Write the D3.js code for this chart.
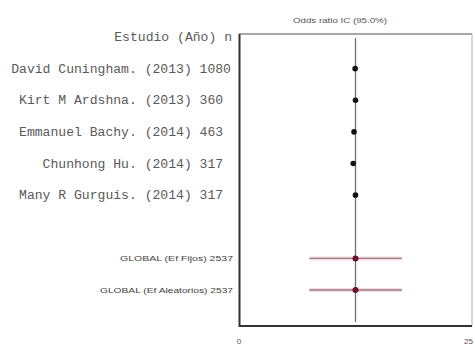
<!DOCTYPE html>
<html>
<head>
<meta charset="utf-8">
<script src="https://cdn.jsdelivr.net/npm/d3@7"></script>
<style>
  html, body { margin: 0; padding: 0; background: #fff; }
  svg { display: block; }
</style>
</head>
<body>
<svg id="chart" width="475" height="345"></svg>
<script>
// Studies in the meta-analysis (author, year, n) and their odds ratios
const studies = ["David Cuningham.", "Kirt M Ardshna.", "Emmanuel Bachy.", "Chunhong Hu.", "Many R Gurguis."];
const years = [2013, 2013, 2014, 2014, 2014];
const sizes = [1080, 360, 463, 317, 317];
const oddsRatios = [0.99, 1.0, 0.96, 0.94, 1.0];

// Pooled estimates
const globalLabels = ["GLOBAL (Ef Fijos) 2537", "GLOBAL (Ef Aleatorios) 2537"];
const globalOR = [1.0, 1.0];
const globalLow = [0.28, 0.28];
const globalHigh = [3.6, 3.6];

// Axis
const axisDomain = [0.04, 25];
const tickValues = [0.04, 25];
const tickLabels = ["0", "25"];
const refValue = 1;

const svg = d3.select("#chart");

const x = d3.scaleLog().domain(axisDomain).range([239, 472]);
// header row, five studies, a blank gap row, two pooled rows
const rowKeys = ["header", "s0", "s1", "s2", "s3", "s4", "gap", "g0", "g1"];
const y = d3.scalePoint().domain(rowKeys).range([37, 290]);

const plotTop = 34, plotBottom = 326;

// Reference line at OR = 1
svg.append("line")
  .attr("x1", x(refValue)).attr("x2", x(refValue))
  .attr("y1", 38).attr("y2", 322)
  .attr("stroke", "#707070").attr("stroke-width", 1.3);

// Frame
svg.append("line").attr("x1", 239).attr("x2", 472).attr("y1", plotTop).attr("y2", plotTop)
  .attr("stroke", "#8a8a8a").attr("stroke-width", 1.3);
svg.append("line").attr("x1", 472).attr("x2", 472).attr("y1", plotTop).attr("y2", plotBottom)
  .attr("stroke", "#b0b0b0").attr("stroke-width", 1);
svg.append("line").attr("x1", 239.5).attr("x2", 239.5).attr("y1", plotTop).attr("y2", plotBottom + 1)
  .attr("stroke", "#333").attr("stroke-width", 2);
svg.append("line").attr("x1", 239).attr("x2", 472).attr("y1", plotBottom).attr("y2", plotBottom)
  .attr("stroke", "#333").attr("stroke-width", 2);

// Title
svg.append("text")
  .attr("x", 340).attr("y", 23)
  .attr("text-anchor", "middle")
  .attr("font-family", "Liberation Sans, Arial, sans-serif")
  .attr("font-size", 8)
  .attr("textLength", 94)
  .attr("lengthAdjust", "spacingAndGlyphs")
  .attr("fill", "#555")
  .text("Odds ratio IC (95.0%)");

// Tick labels
svg.selectAll("text.tick")
  .data(tickValues)
  .join("text")
  .attr("class", "tick")
  .attr("x", (d, i) => i === 0 ? x(d) : 473)
  .attr("y", 344)
  .attr("text-anchor", (d, i) => i === 0 ? "middle" : "end")
  .attr("font-family", "Liberation Sans, Arial, sans-serif")
  .attr("font-size", 8)
  .attr("fill", "#555")
  .text((d, i) => tickLabels[i]);

// Study labels: fixed-width column, n field four characters wide
const mono = "Liberation Mono, Courier New, monospace";
const charW = 7.85;
const colRight = 231;

svg.append("text")
  .attr("x", colRight + 1).attr("y", y("header") + 4)
  .attr("text-anchor", "end")
  .attr("font-family", mono).attr("font-size", 12.5)
  .attr("textLength", 15 * charW)
  .attr("lengthAdjust", "spacingAndGlyphs")
  .attr("fill", "#5a5a5a")
  .text("Estudio (Año) n");

const rows = studies.map((s, i) => ({ key: "s" + i, name: s, year: years[i], n: sizes[i], or: oddsRatios[i] }));

svg.selectAll("text.study")
  .data(rows)
  .join("text")
  .attr("class", "study")
  .attr("y", d => y(d.key) + 4)
  .attr("text-anchor", "end")
  .attr("font-family", mono).attr("font-size", 12.5)
  .attr("fill", "#5a5a5a")
  .each(function (d) {
    const label = `${d.name} (${d.year}) ${d.n}`;
    const pad = 4 - String(d.n).length;
    d3.select(this)
      .attr("x", colRight - pad * charW)
      .attr("textLength", label.length * charW)
      .attr("lengthAdjust", "spacingAndGlyphs")
      .text(label);
  });

svg.selectAll("circle.study")
  .data(rows)
  .join("circle")
  .attr("class", "study")
  .attr("cx", d => x(d.or))
  .attr("cy", d => y(d.key))
  .attr("r", 2.8)
  .attr("fill", "#111");

// Pooled rows
const pooled = globalLabels.map((l, i) => ({ key: "g" + i, label: l, or: globalOR[i], lo: globalLow[i], hi: globalHigh[i] }));
const labelWidths = [113, 133];

svg.selectAll("text.pooled")
  .data(pooled)
  .join("text")
  .attr("class", "pooled")
  .attr("x", 233)
  .attr("y", d => y(d.key) + 3)
  .attr("text-anchor", "end")
  .attr("font-family", "Liberation Sans, Arial, sans-serif")
  .attr("font-size", 7.5)
  .attr("textLength", (d, i) => labelWidths[i])
  .attr("lengthAdjust", "spacingAndGlyphs")
  .attr("fill", "#444")
  .text(d => d.label);

// faint halo behind the interval lines
svg.selectAll("line.halo")
  .data(pooled)
  .join("line")
  .attr("class", "halo")
  .attr("x1", d => x(d.lo)).attr("x2", d => x(d.hi))
  .attr("y1", d => y(d.key)).attr("y2", d => y(d.key))
  .attr("stroke", "#f9d9df").attr("stroke-width", 4);

svg.selectAll("line.ci")
  .data(pooled)
  .join("line")
  .attr("class", "ci")
  .attr("x1", d => x(d.lo)).attr("x2", d => x(d.hi))
  .attr("y1", d => y(d.key)).attr("y2", d => y(d.key))
  .attr("stroke", "#8f8285").attr("stroke-width", 1.3);

svg.selectAll("circle.pooled")
  .data(pooled)
  .join("circle")
  .attr("class", "pooled")
  .attr("cx", d => x(d.or))
  .attr("cy", d => y(d.key))
  .attr("r", 3)
  .attr("fill", "#6a1028");
</script>
</body>
</html>
